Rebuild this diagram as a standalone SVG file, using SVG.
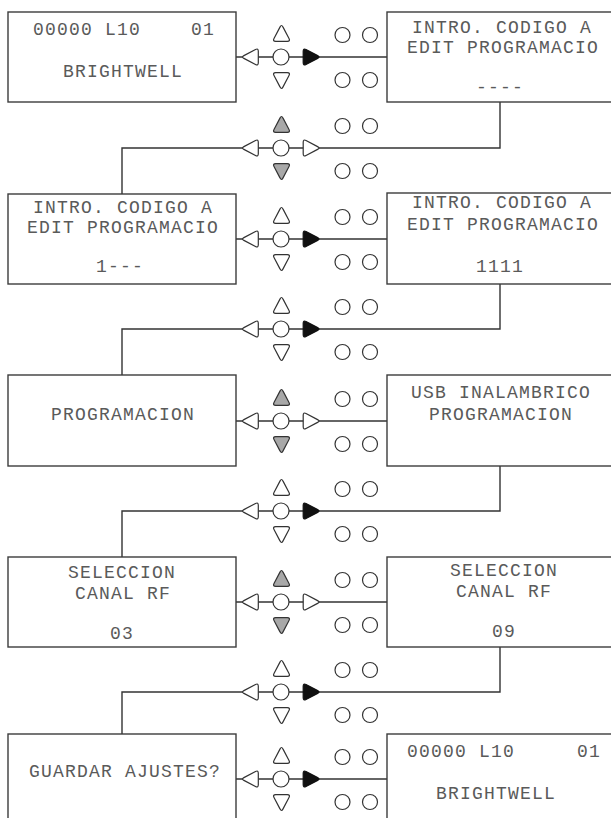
<svg xmlns="http://www.w3.org/2000/svg" xmlns:xlink="http://www.w3.org/1999/xlink" width="611" height="818" viewBox="0 0 611 818">
<style>
.box{fill:#fff;stroke:#3c3c3c;stroke-width:1.4}
.t{font-family:"Liberation Mono","Courier New",monospace;font-size:18px;letter-spacing:1.2px;fill:#5a5a5a}
.m{text-anchor:middle}
.ln{fill:none;stroke:#333;stroke-width:1.4}
.w{fill:#fff;stroke:#333;stroke-width:1.2}
.g{fill:#a8a8a8;stroke:#333;stroke-width:1.2}
.b{fill:#111;stroke:#111;stroke-width:1.2}
</style>
<defs>
<path id="tri" d="M1.4,-6.6 L7.5,5 Q9,7.8 5.8,7.8 L-5.8,7.8 Q-9,7.8 -7.5,5 L-1.4,-6.6 Q0,-9.4 1.4,-6.6 Z"/>
</defs>
<rect width="611" height="818" fill="#fff"/>
<g id="connectors">
<path class="ln" d="M236,57 H387"/>
<path class="ln" d="M500,102 V148 H122 V194"/>
<path class="ln" d="M236,239 H387"/>
<path class="ln" d="M500,284 V329 H122 V375"/>
<path class="ln" d="M236,421 H387"/>
<path class="ln" d="M500,466 V511 H122 V557"/>
<path class="ln" d="M236,602 H387"/>
<path class="ln" d="M500,647 V692 H122 V734"/>
<path class="ln" d="M236,779 H387"/>
</g>
<g id="node-a-left">
<rect class="box" x="8" y="12" width="228" height="90"/>
<text class="t" x="33" y="35">00000 L10</text>
<text class="t" x="191" y="35">01</text>
<text class="t m" x="123" y="77">BRIGHTWELL</text>
</g>
<g id="node-a-right">
<rect class="box" x="387" y="12" width="232" height="90"/>
<text class="t m" x="502" y="33">INTRO. CODIGO A</text>
<text class="t m" x="503" y="53">EDIT PROGRAMACIO</text>
<text class="t m" x="500" y="93">----</text>
</g>
<g id="node-b-left">
<rect class="box" x="8" y="194" width="228" height="90"/>
<text class="t m" x="123" y="213">INTRO. CODIGO A</text>
<text class="t m" x="123" y="233">EDIT PROGRAMACIO</text>
<text class="t m" x="120" y="272">1---</text>
</g>
<g id="node-b-right">
<rect class="box" x="387" y="193" width="232" height="91"/>
<text class="t m" x="502" y="208">INTRO. CODIGO A</text>
<text class="t m" x="503" y="230">EDIT PROGRAMACIO</text>
<text class="t m" x="500" y="272">1111</text>
</g>
<g id="node-c-left">
<rect class="box" x="8" y="375" width="228" height="91"/>
<text class="t m" x="123" y="420">PROGRAMACION</text>
</g>
<g id="node-c-right">
<rect class="box" x="387" y="375" width="232" height="91"/>
<text class="t m" x="501" y="398">USB INALAMBRICO</text>
<text class="t m" x="501" y="420">PROGRAMACION</text>
</g>
<g id="node-d-left">
<rect class="box" x="8" y="557" width="228" height="90"/>
<text class="t m" x="122" y="578">SELECCION</text>
<text class="t m" x="123" y="599">CANAL RF</text>
<text class="t m" x="122" y="639">03</text>
</g>
<g id="node-d-right">
<rect class="box" x="387" y="557" width="232" height="90"/>
<text class="t m" x="504" y="576">SELECCION</text>
<text class="t m" x="504" y="597">CANAL RF</text>
<text class="t m" x="504" y="637">09</text>
</g>
<g id="node-e-left">
<rect class="box" x="8" y="734" width="228" height="100"/>
<text class="t m" x="125" y="777">GUARDAR AJUSTES?</text>
</g>
<g id="node-e-right">
<rect class="box" x="387" y="734" width="232" height="100"/>
<text class="t" x="407" y="757">00000 L10</text>
<text class="t" x="577" y="757">01</text>
<text class="t m" x="496" y="799">BRIGHTWELL</text>
</g>
<g id="keypad-1" transform="translate(281,57)">
<use xlink:href="#tri" class="w" transform="translate(0.5,-23.5)"/>
<use xlink:href="#tri" class="w" transform="translate(0.5,23.5) rotate(180)"/>
<use xlink:href="#tri" class="w" transform="translate(-30.5,0) rotate(-90)"/>
<use xlink:href="#tri" class="b" transform="translate(30,0) rotate(90)"/>
<circle class="w" r="8"/>
<circle class="w" cx="61.5" cy="-22" r="7.5"/><circle class="w" cx="89" cy="-22" r="7.5"/>
<circle class="w" cx="61.5" cy="23" r="7.5"/><circle class="w" cx="89" cy="23" r="7.5"/>
</g>
<g id="keypad-2" transform="translate(281,148)">
<use xlink:href="#tri" class="g" transform="translate(0.5,-23.5)"/>
<use xlink:href="#tri" class="g" transform="translate(0.5,23.5) rotate(180)"/>
<use xlink:href="#tri" class="w" transform="translate(-30.5,0) rotate(-90)"/>
<use xlink:href="#tri" class="w" transform="translate(30,0) rotate(90)"/>
<circle class="w" r="8"/>
<circle class="w" cx="61.5" cy="-22" r="7.5"/><circle class="w" cx="89" cy="-22" r="7.5"/>
<circle class="w" cx="61.5" cy="23" r="7.5"/><circle class="w" cx="89" cy="23" r="7.5"/>
</g>
<g id="keypad-3" transform="translate(281,239)">
<use xlink:href="#tri" class="w" transform="translate(0.5,-23.5)"/>
<use xlink:href="#tri" class="w" transform="translate(0.5,23.5) rotate(180)"/>
<use xlink:href="#tri" class="w" transform="translate(-30.5,0) rotate(-90)"/>
<use xlink:href="#tri" class="b" transform="translate(30,0) rotate(90)"/>
<circle class="w" r="8"/>
<circle class="w" cx="61.5" cy="-22" r="7.5"/><circle class="w" cx="89" cy="-22" r="7.5"/>
<circle class="w" cx="61.5" cy="23" r="7.5"/><circle class="w" cx="89" cy="23" r="7.5"/>
</g>
<g id="keypad-4" transform="translate(281,329)">
<use xlink:href="#tri" class="w" transform="translate(0.5,-23.5)"/>
<use xlink:href="#tri" class="w" transform="translate(0.5,23.5) rotate(180)"/>
<use xlink:href="#tri" class="w" transform="translate(-30.5,0) rotate(-90)"/>
<use xlink:href="#tri" class="b" transform="translate(30,0) rotate(90)"/>
<circle class="w" r="8"/>
<circle class="w" cx="61.5" cy="-22" r="7.5"/><circle class="w" cx="89" cy="-22" r="7.5"/>
<circle class="w" cx="61.5" cy="23" r="7.5"/><circle class="w" cx="89" cy="23" r="7.5"/>
</g>
<g id="keypad-5" transform="translate(281,421)">
<use xlink:href="#tri" class="g" transform="translate(0.5,-23.5)"/>
<use xlink:href="#tri" class="g" transform="translate(0.5,23.5) rotate(180)"/>
<use xlink:href="#tri" class="w" transform="translate(-30.5,0) rotate(-90)"/>
<use xlink:href="#tri" class="w" transform="translate(30,0) rotate(90)"/>
<circle class="w" r="8"/>
<circle class="w" cx="61.5" cy="-22" r="7.5"/><circle class="w" cx="89" cy="-22" r="7.5"/>
<circle class="w" cx="61.5" cy="23" r="7.5"/><circle class="w" cx="89" cy="23" r="7.5"/>
</g>
<g id="keypad-6" transform="translate(281,511)">
<use xlink:href="#tri" class="w" transform="translate(0.5,-23.5)"/>
<use xlink:href="#tri" class="w" transform="translate(0.5,23.5) rotate(180)"/>
<use xlink:href="#tri" class="w" transform="translate(-30.5,0) rotate(-90)"/>
<use xlink:href="#tri" class="b" transform="translate(30,0) rotate(90)"/>
<circle class="w" r="8"/>
<circle class="w" cx="61.5" cy="-22" r="7.5"/><circle class="w" cx="89" cy="-22" r="7.5"/>
<circle class="w" cx="61.5" cy="23" r="7.5"/><circle class="w" cx="89" cy="23" r="7.5"/>
</g>
<g id="keypad-7" transform="translate(281,602)">
<use xlink:href="#tri" class="g" transform="translate(0.5,-23.5)"/>
<use xlink:href="#tri" class="g" transform="translate(0.5,23.5) rotate(180)"/>
<use xlink:href="#tri" class="w" transform="translate(-30.5,0) rotate(-90)"/>
<use xlink:href="#tri" class="w" transform="translate(30,0) rotate(90)"/>
<circle class="w" r="8"/>
<circle class="w" cx="61.5" cy="-22" r="7.5"/><circle class="w" cx="89" cy="-22" r="7.5"/>
<circle class="w" cx="61.5" cy="23" r="7.5"/><circle class="w" cx="89" cy="23" r="7.5"/>
</g>
<g id="keypad-8" transform="translate(281,692)">
<use xlink:href="#tri" class="w" transform="translate(0.5,-23.5)"/>
<use xlink:href="#tri" class="w" transform="translate(0.5,23.5) rotate(180)"/>
<use xlink:href="#tri" class="w" transform="translate(-30.5,0) rotate(-90)"/>
<use xlink:href="#tri" class="b" transform="translate(30,0) rotate(90)"/>
<circle class="w" r="8"/>
<circle class="w" cx="61.5" cy="-22" r="7.5"/><circle class="w" cx="89" cy="-22" r="7.5"/>
<circle class="w" cx="61.5" cy="23" r="7.5"/><circle class="w" cx="89" cy="23" r="7.5"/>
</g>
<g id="keypad-9" transform="translate(281,779)">
<use xlink:href="#tri" class="w" transform="translate(0.5,-23.5)"/>
<use xlink:href="#tri" class="w" transform="translate(0.5,23.5) rotate(180)"/>
<use xlink:href="#tri" class="w" transform="translate(-30.5,0) rotate(-90)"/>
<use xlink:href="#tri" class="b" transform="translate(30,0) rotate(90)"/>
<circle class="w" r="8"/>
<circle class="w" cx="61.5" cy="-22" r="7.5"/><circle class="w" cx="89" cy="-22" r="7.5"/>
<circle class="w" cx="61.5" cy="23" r="7.5"/><circle class="w" cx="89" cy="23" r="7.5"/>
</g>
</svg>
